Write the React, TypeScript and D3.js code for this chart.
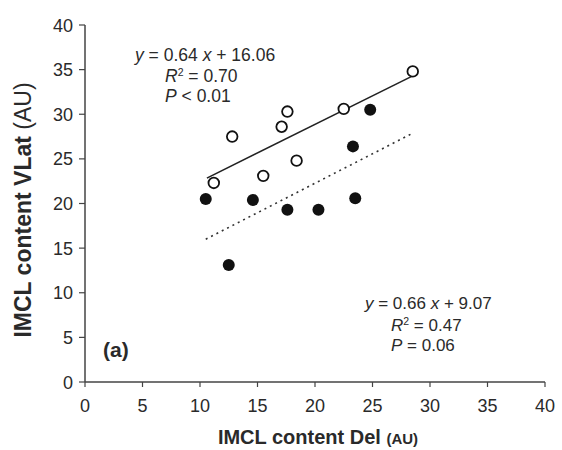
import React from "react";
import * as d3 from "d3";

const openX = [11.2, 12.8, 15.5, 17.1, 17.6, 18.4, 22.5, 28.5];
const openY = [22.3, 27.5, 23.1, 28.6, 30.3, 24.8, 30.6, 34.8];
const filledX = [10.5, 12.5, 14.6, 17.6, 20.3, 23.3, 23.5, 24.8];
const filledY = [20.5, 13.1, 20.4, 19.3, 19.3, 26.4, 20.6, 30.5];
const xTicks = [0, 5, 10, 15, 20, 25, 30, 35, 40];
const yTicks = [0, 5, 10, 15, 20, 25, 30, 35, 40];
const fitOpen = { slope: 0.64, intercept: 16.06, x0: 10.6, x1: 28.5 };
const fitFilled = { slope: 0.66, intercept: 9.07, x0: 10.5, x1: 28.5 };

const W = 562;
const H = 450;
const font = "'Liberation Sans', Arial, sans-serif";
const textColor = "#2a2a2a";
const axisColor = "#444";

export default function App() {
  const x = d3.scaleLinear().domain([0, 40]).range([85, 545]);
  const y = d3.scaleLinear().domain([0, 40]).range([382, 25]);
  const openLine = d3
    .line<number>()
    .x((d) => x(d))
    .y((d) => y(fitOpen.slope * d + fitOpen.intercept));
  const filledLine = d3
    .line<number>()
    .x((d) => x(d))
    .y((d) => y(fitFilled.slope * d + fitFilled.intercept));

  return (
    <svg
      width={W}
      height={H}
      style={{ position: "absolute", left: 0, top: 0, background: "#fff" }}
      fontFamily={font}
    >
      {/* axes */}
      <line x1={x(0)} x2={x(40)} y1={y(0)} y2={y(0)} stroke={axisColor} strokeWidth={1.5} />
      <line x1={x(0)} x2={x(0)} y1={y(0)} y2={y(40)} stroke={axisColor} strokeWidth={1.5} />
      {xTicks.map((t) => (
        <g key={"xt" + t}>
          <line x1={x(t)} x2={x(t)} y1={y(0)} y2={y(0) + 5} stroke={axisColor} strokeWidth={1.2} />
          <text x={x(t)} y={412} textAnchor="middle" fontSize={18} fill={textColor}>
            {t}
          </text>
        </g>
      ))}
      {yTicks.map((t) => (
        <g key={"yt" + t}>
          <line x1={x(0) - 6} x2={x(0)} y1={y(t)} y2={y(t)} stroke={axisColor} strokeWidth={1.2} />
          <text x={73} y={y(t) + 6.5} textAnchor="end" fontSize={18} fill={textColor}>
            {t}
          </text>
        </g>
      ))}

      {/* axis labels */}
      <text x={318} y={444} textAnchor="middle" fill={textColor}>
        <tspan fontSize={20} fontWeight="bold">IMCL content Del </tspan>
        <tspan fontSize={15} fontWeight="bold">(AU)</tspan>
      </text>
      <text
        transform="translate(31,210) rotate(-90)"
        textAnchor="middle"
        fill={textColor}
        fontSize={23}
      >
        <tspan fontWeight="bold">IMCL content VLat </tspan>
        <tspan>(AU)</tspan>
      </text>

      {/* fits */}
      <path d={openLine([fitOpen.x0, fitOpen.x1]) || ""} stroke="#222" strokeWidth={1.6} fill="none" />
      <path
        d={filledLine([fitFilled.x0, fitFilled.x1]) || ""}
        stroke="#333"
        strokeWidth={1.6}
        strokeDasharray="2,4"
        fill="none"
      />

      {/* points */}
      {filledX.map((v, i) => (
        <circle key={"f" + i} cx={x(v)} cy={y(filledY[i])} r={6} fill="#111" />
      ))}
      {openX.map((v, i) => (
        <circle key={"o" + i} cx={x(v)} cy={y(openY[i])} r={5.3} fill="#fff" stroke="#111" strokeWidth={1.8} />
      ))}

      {/* annotations */}
      <g fontSize={17.5} fill={textColor}>
        <text x={135} y={61}>
          <tspan fontStyle="italic">y</tspan>
          <tspan> = 0.64 </tspan>
          <tspan fontStyle="italic">x</tspan>
          <tspan> + 16.06</tspan>
        </text>
        <text x={165} y={82}>
          <tspan fontStyle="italic">R</tspan>
          <tspan fontSize={10.5} dy={-6}>2</tspan>
          <tspan dy={6}> = 0.70</tspan>
        </text>
        <text x={165} y={102}>
          <tspan fontStyle="italic">P</tspan>
          <tspan> &lt; 0.01</tspan>
        </text>
      </g>
      <g fontSize={17} fill={textColor}>
        <text x={365} y={309}>
          <tspan fontStyle="italic">y</tspan>
          <tspan> = 0.66 </tspan>
          <tspan fontStyle="italic">x</tspan>
          <tspan> + 9.07</tspan>
        </text>
        <text x={391} y={331}>
          <tspan fontStyle="italic">R</tspan>
          <tspan fontSize={10.5} dy={-6}>2</tspan>
          <tspan dy={6}> = 0.47</tspan>
        </text>
        <text x={391} y={351}>
          <tspan fontStyle="italic">P</tspan>
          <tspan> = 0.06</tspan>
        </text>
      </g>
      <text x={103} y={357} fontSize={21} fontWeight="bold" fill={textColor}>
        (a)
      </text>
    </svg>
  );
}
